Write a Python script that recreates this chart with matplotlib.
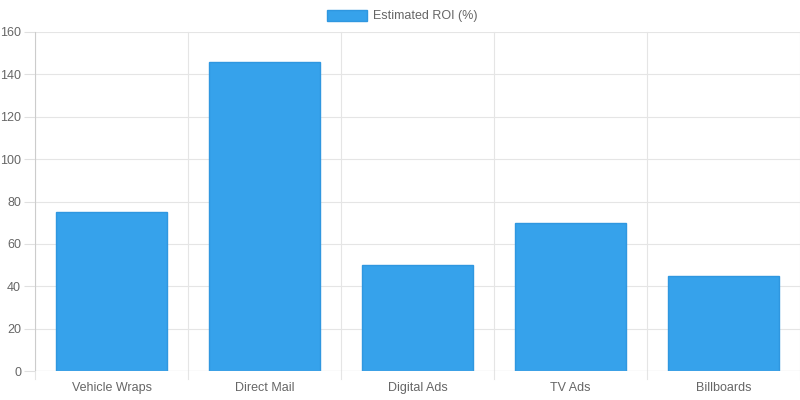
import matplotlib
matplotlib.use("Agg")
import matplotlib.pyplot as plt
from matplotlib.patches import Rectangle

categories = ["Vehicle Wraps", "Direct Mail", "Digital Ads", "TV Ads", "Billboards"]
roi = [75, 146, 50, 70, 45]
yticks = [0, 20, 40, 60, 80, 100, 120, 140, 160]

plt.rcParams['font.family'] = ['Liberation Sans', 'DejaVu Sans']
fig = plt.figure(figsize=(8, 4), dpi=100)
ax = fig.add_axes([35/800, 1-371/400, 765/800, 339/400])
n = len(categories)
x = list(range(n))
ax.bar(x, roi, width=0.72, color='#36A2EB', edgecolor='#2f97e0', linewidth=1, zorder=3)
ax.set_xlim(-0.5, n-0.5)
ax.set_ylim(0, 160)
ax.set_yticks(yticks)
ax.set_xticks(x)
ax.set_xticklabels(categories)
ax.tick_params(axis='x', length=0, pad=8, labelsize=9, colors='#666666')
ax.tick_params(axis='y', length=8, pad=2, labelsize=9, colors='#666666', color='#e0e0e0')
for v in yticks:
    ax.axhline(v, color='#e5e5e5', lw=0.8, zorder=0)
for b in [i-0.5 for i in range(n+1)]:
    ax.plot([b, b], [-8/339*160, 160], color='#e5e5e5', lw=0.8, zorder=0, clip_on=False)
for s in ax.spines.values():
    s.set_visible(False)
ax.axhline(0, color='#cccccc', lw=0.8, zorder=4)
ax.plot([-0.5, -0.5], [0, 160], color='#cccccc', lw=0.8, zorder=4)
fig.patches.append(Rectangle((327/800, 1-21/400), 40/800, 11/400, transform=fig.transFigure,
                             facecolor='#36A2EB', edgecolor='#2f97e0', lw=1))
fig.text(373/800, 1-16/400, "Estimated ROI (%)", fontsize=9, color='#666666', va='center', ha='left')
fig.savefig("out.png", dpi=100)
